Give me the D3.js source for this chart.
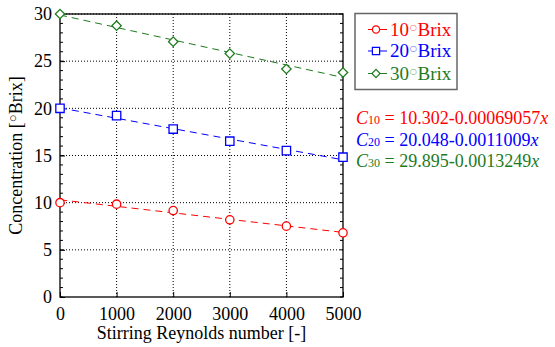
<!DOCTYPE html>
<html>
<head>
<meta charset="utf-8">
<script src="https://cdn.jsdelivr.net/npm/d3@7"></script>
<style>
  body { margin: 0; background: #fff; }
  svg text { font-family: "Liberation Serif", "Times New Roman", serif !important; }
</style>
</head>
<body>
<svg id="chart" width="555" height="347"></svg>
<script>
// data
var reynolds = [0, 1000, 2000, 3000, 4000, 5000];
var brix10 = [10.0, 9.84, 9.16, 8.18, 7.51, 6.8];
var brix20 = [20.0, 19.23, 17.8, 16.52, 15.52, 14.82];
var brix30 = [30.0, 28.76, 27.07, 25.8, 24.17, 23.8];
var seriesNames = ["10", "20", "30"];
var intercepts = [10.302, 20.048, 29.895];
var slopes = ["0.00069057", "0.0011009", "0.0013249"];
var xTicks = [0, 1000, 2000, 3000, 4000, 5000];
var yTicks = [0, 5, 10, 15, 20, 25, 30];

var colors = ["#ff0000", "#0000ff", "#1e7b1e"];
// diamond = square turned 45 degrees
var symbols = [d3.symbolCircle, d3.symbolSquare, d3.symbolSquare];
var symSize = [55, 70, 44];
var symRot = [0, 0, 45];
var allSeries = [brix10, brix20, brix30];

var margin = { top: 14, left: 60 };
var w = 283, h = 283;

var svg = d3.select("#chart");
var g = svg.append("g").attr("transform", "translate(" + margin.left + "," + margin.top + ")");

var x = d3.scaleLinear().domain([0, 5000]).range([0, w]);
var y = d3.scaleLinear().domain([0, 30]).range([h, 0]);

// grid
g.selectAll(".gx").data(xTicks.slice(1, -1)).enter().append("line")
    .attr("x1", d => x(d)).attr("x2", d => x(d))
    .attr("y1", 0).attr("y2", h)
    .attr("stroke", "#000").attr("stroke-width", 1).attr("stroke-dasharray", "1,2");
g.selectAll(".gy").data(yTicks.slice(1)).enter().append("line")
    .attr("x1", 0).attr("x2", w)
    .attr("y1", d => y(d)).attr("y2", d => y(d))
    .attr("stroke", "#000").attr("stroke-width", 1).attr("stroke-dasharray", "1,2");

// minor ticks on left and right, every 1 unit
var minor = d3.range(0, 31);
g.selectAll(".ml").data(minor).enter().append("line")
    .attr("x1", 0).attr("x2", 3)
    .attr("y1", d => y(d)).attr("y2", d => y(d))
    .attr("stroke", "#000");
g.selectAll(".mr").data(minor).enter().append("line")
    .attr("x1", w - 3).attr("x2", w)
    .attr("y1", d => y(d)).attr("y2", d => y(d))
    .attr("stroke", "#000");

// axes
var xAxis = g.append("g").attr("transform", "translate(0," + h + ")")
    .call(d3.axisBottom(x).tickValues(xTicks).tickFormat(d3.format("d"))
        .tickSizeInner(-5).tickSizeOuter(0).tickPadding(10));
var yAxis = g.append("g")
    .call(d3.axisLeft(y).tickValues(yTicks).tickFormat(d3.format("d"))
        .tickSizeInner(-5).tickSizeOuter(0).tickPadding(8));
[xAxis, yAxis].forEach(function(a) {
    a.attr("font-family", null);
    a.select(".domain").remove();
    a.selectAll("text").attr("font-size", "18px").attr("fill", "#000");
});
xAxis.selectAll("text").attr("dy", "0.71em").attr("y", 10);

// frame
g.append("rect").attr("width", w).attr("height", h)
    .attr("fill", "none").attr("stroke", "#000").attr("stroke-width", 1.3);

// fit lines
allSeries.forEach(function(s, i) {
    var b = intercepts[i], m = +slopes[i];
    g.append("line")
        .attr("x1", x(0)).attr("y1", y(b))
        .attr("x2", x(5000)).attr("y2", y(b - m * 5000))
        .attr("stroke", colors[i]).attr("stroke-width", 1)
        .attr("stroke-dasharray", "7,5");
});

// markers
allSeries.forEach(function(s, i) {
    g.selectAll(".pt" + i).data(s).enter().append("path")
        .attr("d", d3.symbol().type(symbols[i]).size(symSize[i]))
        .attr("transform", (d, j) => "translate(" + x(reynolds[j]) + "," + y(d) + ") rotate(" + symRot[i] + ")")
        .attr("fill", "#fff").attr("stroke", colors[i]).attr("stroke-width", 1.3);
});

// axis titles
svg.append("text")
    .attr("x", margin.left + w / 2).attr("y", 339)
    .attr("text-anchor", "middle").attr("font-size", "18px")
    .text("Stirring Reynolds number [-]");

var yt = svg.append("text")
    .attr("transform", "translate(22," + (margin.top + h / 2) + ") rotate(-90)")
    .attr("text-anchor", "middle").attr("font-size", "18px");
yt.append("tspan").text("Concentration [");
yt.append("tspan").attr("font-size", "13px").attr("dy", "-5").text("\u25CB");
yt.append("tspan").attr("dy", "5").text("Brix]");

// legend
var lg = svg.append("g");
lg.append("rect").attr("x", 355).attr("y", 13.5).attr("width", 102).attr("height", 76)
    .attr("fill", "#fff").attr("stroke", "#666").attr("stroke-width", 1.5);
var rowsY = [29.5, 51, 73.5];
seriesNames.forEach(function(n, i) {
    lg.append("line").attr("x1", 368).attr("x2", 387)
        .attr("y1", rowsY[i]).attr("y2", rowsY[i])
        .attr("stroke", colors[i]).attr("stroke-width", 1);
    lg.append("path")
        .attr("d", d3.symbol().type(symbols[i]).size(symSize[i] * 0.75))
        .attr("transform", "translate(376," + rowsY[i] + ") rotate(" + symRot[i] + ")")
        .attr("fill", "#fff").attr("stroke", colors[i]).attr("stroke-width", 1.2);
    var t = lg.append("text").attr("x", 390).attr("y", rowsY[i] + 6)
        .attr("font-size", "19px").attr("fill", colors[i]);
    t.append("tspan").text(n);
    t.append("tspan").attr("font-size", "14px").attr("dy", "-4").attr("fill-opacity", 0.6).text("\u25CB");
    t.append("tspan").attr("dy", "4").text("Brix");
});

// equations
var eqY = [124, 146, 167];
seriesNames.forEach(function(n, i) {
    var t = svg.append("text").attr("x", 356).attr("y", eqY[i])
        .attr("font-size", "18px").attr("fill", colors[i]);
    t.append("tspan").attr("font-style", "italic").text("C");
    t.append("tspan").attr("font-size", "12px").text(n);
    t.append("tspan").text(" = " + intercepts[i].toFixed(3) + "-" + slopes[i]);
    t.append("tspan").attr("font-style", "italic").text("x");
});
</script>
</body>
</html>
